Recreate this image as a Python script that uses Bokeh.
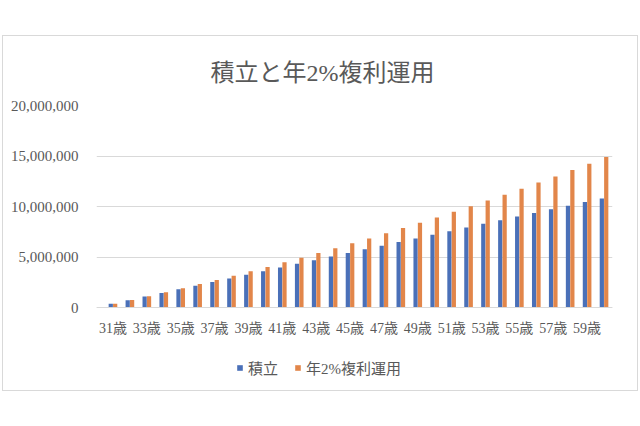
from bokeh.plotting import figure
from bokeh.models import (ColumnDataSource, FixedTicker, NumeralTickFormatter,
                          Legend, LegendItem, Range1d, LinearAxis)
from bokeh.embed import file_html
from bokeh.resources import INLINE

ages = [f"{a}歳" for a in range(31, 61)]
tsumitate = [360000, 720000, 1080000, 1440000, 1800000, 2160000, 2520000, 2880000, 3240000, 3600000,
             3960000, 4320000, 4680000, 5040000, 5400000, 5760000, 6120000, 6480000, 6840000, 7200000,
             7560000, 7920000, 8280000, 8640000, 9000000, 9360000, 9720000, 10080000, 10440000, 10800000]
fukuri = [367000, 742000, 1124000, 1513000, 1911000, 2316000, 2730000, 3152000, 3582000, 4021000,
          4468000, 4925000, 5391000, 5866000, 6350000, 6844000, 7348000, 7863000, 8387000, 8922000,
          9468000, 10024000, 10592000, 11171000, 11762000, 12364000, 12978000, 13605000, 14245000, 14897000]
y_ticks = [0, 5000000, 10000000, 15000000, 20000000]
title_text = "積立と年2%複利運用"
series_names = ["積立", "年2%複利運用"]

FONT = "'Liberation Serif', 'Noto Sans CJK JP', serif"
TXT = "#595959"
BLUE = "#4a70b8"
ORANGE = "#e2864a"

# layout: 202 px of frame per 20M; frame runs 82 px below the zero line to hold labels and legend
Y_MAX = 20000000
Y_MIN = -Y_MAX * 82 / 202
# frame extends 8 px left of the first category slot so the first tick label is not clipped
X_MIN = -0.5 - 8 * len(ages) / 508

idx = list(range(len(ages)))
src = ColumnDataSource(dict(i=idx, ia=[i - 0.13 for i in idx], ib=[i + 0.13 for i in idx],
                            a=tsumitate, b=fukuri))

p = figure(x_range=Range1d(X_MIN, len(ages) - 0.5), y_range=Range1d(Y_MIN, Y_MAX),
           frame_width=516, frame_height=284, output_backend="svg", toolbar_location=None,
           title=title_text, x_axis_location=None,
           min_border_top=69, min_border_left=93, min_border_right=25, min_border_bottom=1)
p.margin = (35, 0, 0, 2)
p.styles = {"border": "1px solid #d9d9d9"}
p.background_fill_color = "white"
p.border_fill_color = "white"
p.outline_line_color = None

p.title.align = "left"
p.title.offset = 114
p.title.text_font = FONT
p.title.text_font_size = "24px"
p.title.text_font_style = "normal"
p.title.text_color = TXT
p.title.standoff = 40

r1 = p.vbar(x="ia", top="a", width=0.25, source=src, color=BLUE, line_color=None)
r2 = p.vbar(x="ib", top="b", width=0.25, source=src, color=ORANGE, line_color=None)

p.xgrid.grid_line_color = None
p.ygrid.ticker = FixedTicker(ticks=y_ticks)
p.ygrid.grid_line_color = "#d9d9d9"
p.ygrid.grid_line_width = 1

p.yaxis.ticker = FixedTicker(ticks=y_ticks)
p.yaxis.formatter = NumeralTickFormatter(format="0,0")
p.yaxis.axis_line_color = None
p.yaxis.major_tick_line_color = None
p.yaxis.minor_tick_line_color = None
p.yaxis.major_label_text_font = FONT
p.yaxis.major_label_text_font_size = "15px"
p.yaxis.major_label_text_color = TXT
p.yaxis.major_label_standoff = 12

xaxis = LinearAxis(fixed_location=0, ticker=FixedTicker(ticks=idx[::2]),
                   major_label_overrides={i: ages[i] for i in idx})
xaxis.axis_line_color = "#d9d9d9"
xaxis.major_tick_line_color = None
xaxis.minor_tick_line_color = None
xaxis.major_label_text_font = FONT
xaxis.major_label_text_font_size = "14px"
xaxis.major_label_text_color = TXT
xaxis.major_label_standoff = 7
p.add_layout(xaxis, "below")

legend = Legend(items=[LegendItem(label=series_names[0], renderers=[r1]),
                       LegendItem(label=series_names[1], renderers=[r2])],
                orientation="horizontal", location=(140, 11))
legend.border_line_color = None
legend.background_fill_alpha = 0
legend.label_text_font = FONT
legend.label_text_font_size = "15px"
legend.label_text_color = TXT
legend.glyph_width = 7
legend.glyph_height = 7
legend.spacing = 16
legend.label_standoff = 5
legend.margin = 0
legend.padding = 5
p.add_layout(legend)

open("out.html", "w").write(file_html(p, INLINE))
